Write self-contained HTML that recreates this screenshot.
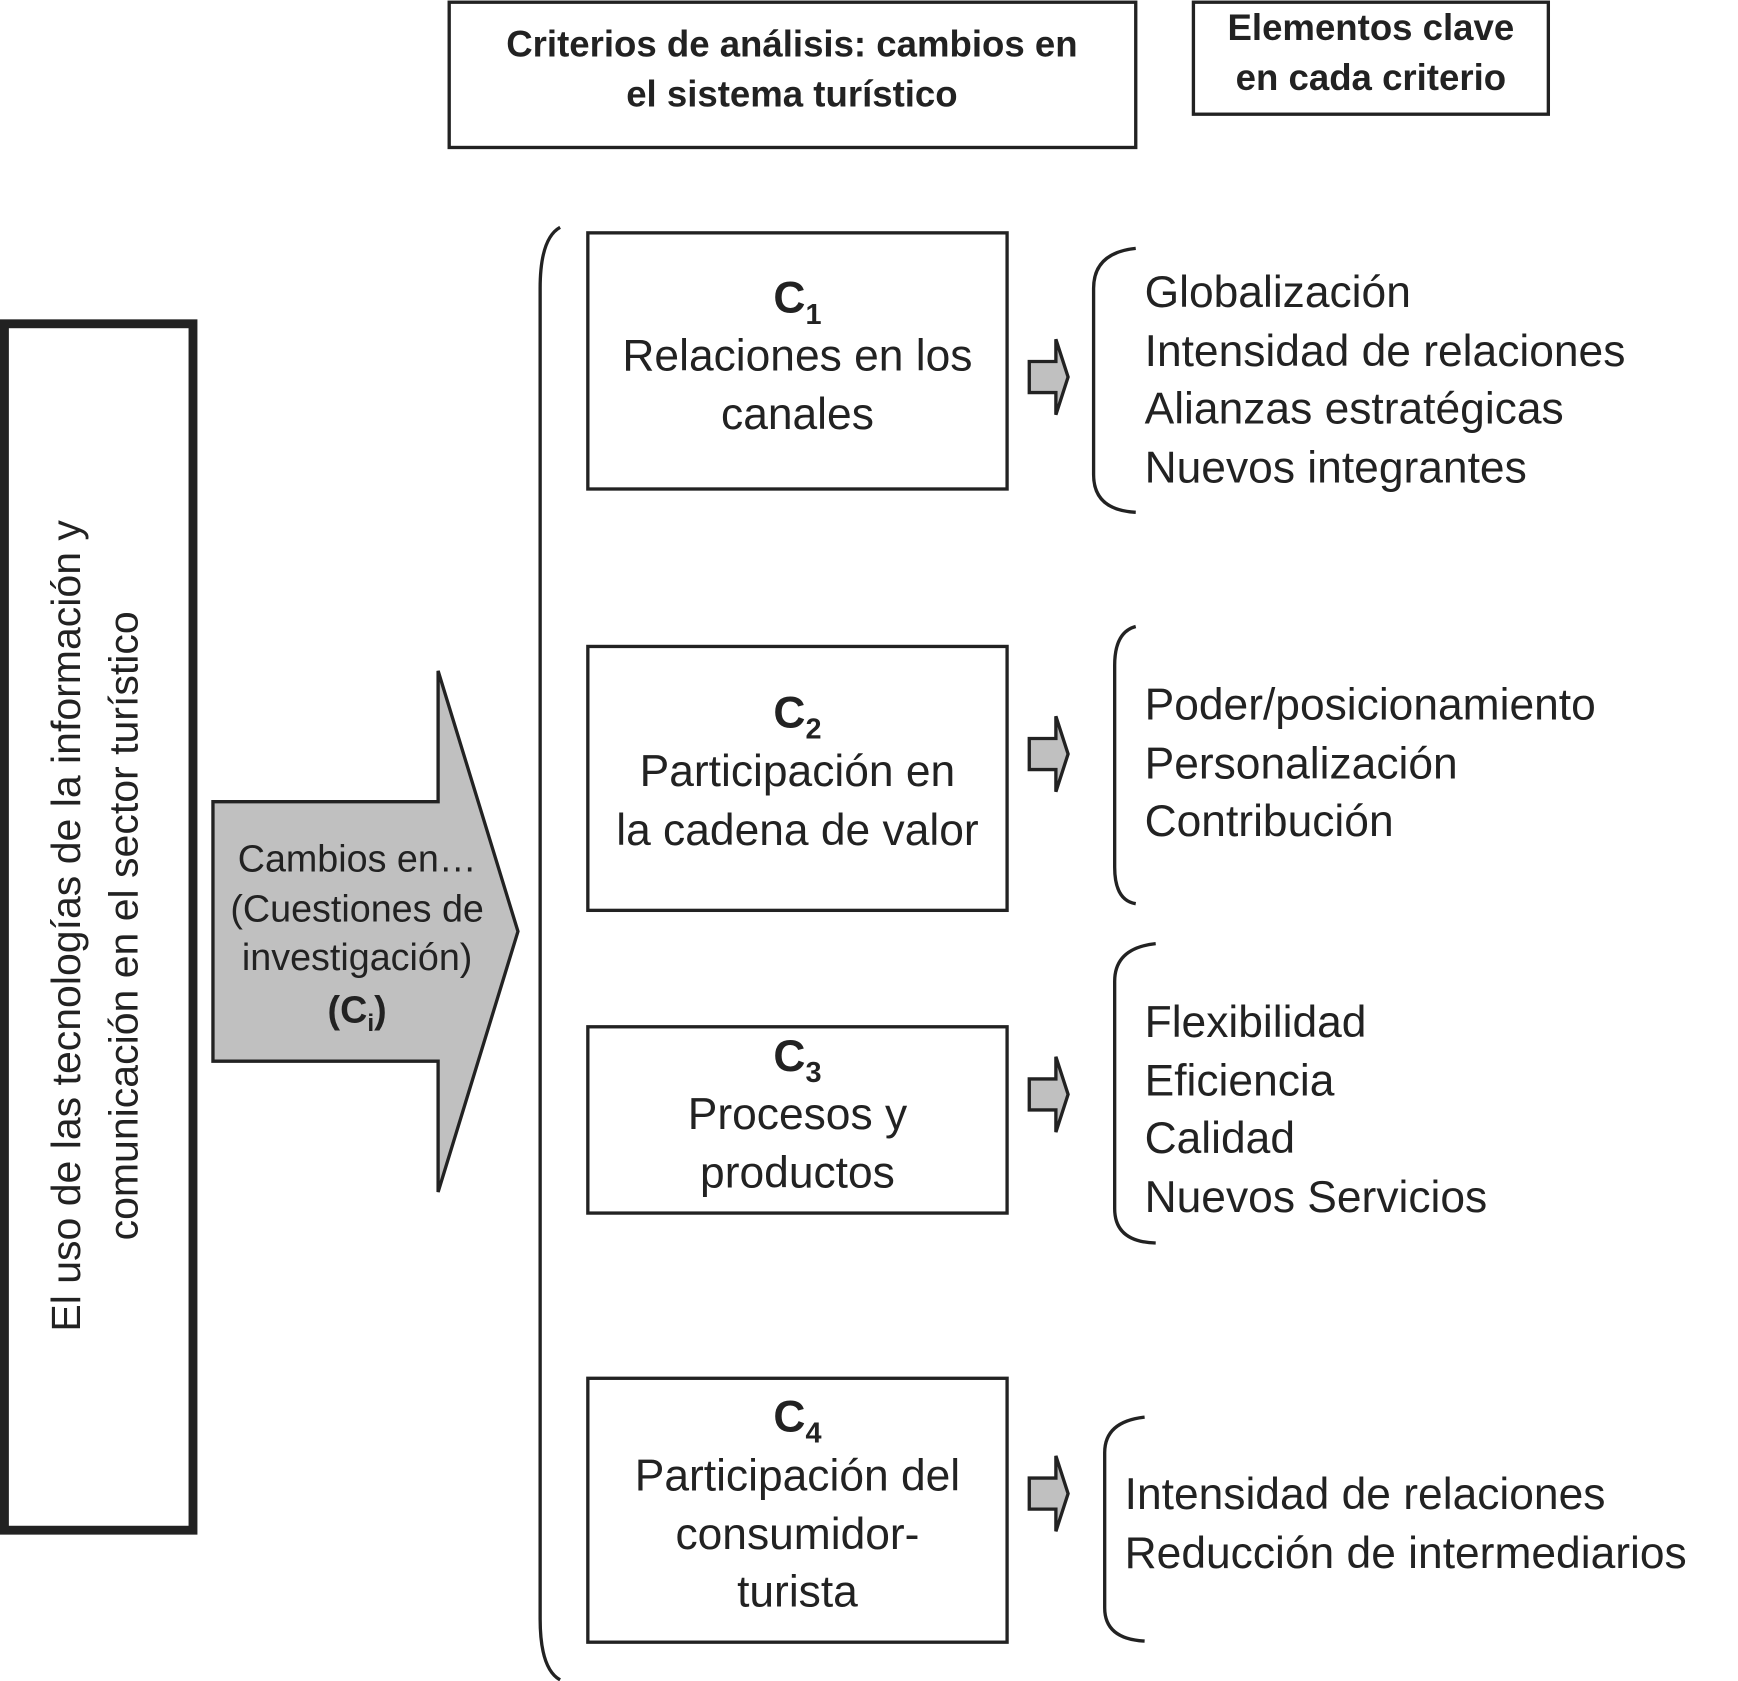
<!DOCTYPE html>
<html><head><meta charset="utf-8"><style>html,body{margin:0;padding:0;background:#fff}svg{display:block}</style></head>
<body>
<svg width="1738" height="1681" viewBox="0 0 1567 1516" preserveAspectRatio="none" xmlns="http://www.w3.org/2000/svg" font-family="Liberation Sans, Arial, sans-serif" fill="#222">
<g fill="none" stroke="#222">
<rect x="405" y="2" width="619" height="131" stroke-width="3"/>
<rect x="1076" y="2" width="320" height="101" stroke-width="3"/>
<rect x="4" y="292" width="170" height="1088" stroke-width="8"/>
<rect x="530" y="210" width="378" height="231" stroke-width="3"/>
<rect x="530" y="583" width="378" height="238" stroke-width="3"/>
<rect x="530" y="926" width="378" height="168" stroke-width="3"/>
<rect x="530" y="1243" width="378" height="238" stroke-width="3"/>
<path d="M505,205 Q487,215 487,260 L487,1460 Q487,1505 505,1515" stroke-width="3"/>
<path d="M1024,224 Q986,228 986,260 L986,428 Q986,460 1024,462" stroke-width="3"/>
<path d="M1024,565 Q1005,570 1005,600 L1005,782 Q1005,812 1024,815" stroke-width="3"/>
<path d="M1042,851 Q1005,855 1005,885 L1005,1090 Q1005,1120 1042,1121" stroke-width="3"/>
<path d="M1032,1278 Q996,1282 996,1310 L996,1450 Q996,1478 1032,1480" stroke-width="3"/>
</g>
<polygon points="192,723 395,723 395,605 467,840 395,1075 395,957 192,957" fill="#c0c0c0" stroke="#222" stroke-width="3"/>
<g fill="#c0c0c0" stroke="#222" stroke-width="3">
<polygon points="928,326 952,326 952,306 963,340 952,374 952,354 928,354"/>
<polygon points="928,666 952,666 952,646 963,680 952,714 952,694 928,694"/>
<polygon points="928,973 952,973 952,953 963,987 952,1021 952,1001 928,1001"/>
<polygon points="928,1333 952,1333 952,1313 963,1347 952,1381 952,1361 928,1361"/>
</g>
<g font-weight="bold" font-size="33" text-anchor="middle">
<text x="714" y="51">Criterios de análisis: cambios en</text>
<text x="714" y="96">el sistema turístico</text>
<text x="1236" y="36">Elementos clave</text>
<text x="1236" y="81">en cada criterio</text>
</g>
<g font-size="37" text-anchor="middle" transform="rotate(-90)">
<text x="-835" y="72">El uso de las tecnologías de la información y</text>
<text x="-835" y="124">comunicación en el sector turístico</text>
</g>
<g font-size="34" text-anchor="middle">
<text x="322" y="786">Cambios en…</text>
<text x="322" y="831">(Cuestiones de</text>
<text x="322" y="875">investigación)</text>
<text x="322" y="922" font-weight="bold">(C<tspan font-size="22" dy="8">i</tspan><tspan dy="-8">)</tspan></text>
</g>
<g font-size="40" text-anchor="middle">
<text x="719" y="282" font-weight="bold">C<tspan font-size="26" dy="10">1</tspan></text>
<text x="719" y="334">Relaciones en los</text>
<text x="719" y="387">canales</text>
<text x="719" y="656" font-weight="bold">C<tspan font-size="26" dy="10">2</tspan></text>
<text x="719" y="709">Participación en</text>
<text x="719" y="762">la cadena de valor</text>
<text x="719" y="966" font-weight="bold">C<tspan font-size="26" dy="10">3</tspan></text>
<text x="719" y="1018">Procesos y</text>
<text x="719" y="1071">productos</text>
<text x="719" y="1291" font-weight="bold">C<tspan font-size="26" dy="10">4</tspan></text>
<text x="719" y="1344">Participación del</text>
<text x="719" y="1397">consumidor-</text>
<text x="719" y="1449">turista</text>
</g>
<g font-size="40">
<text x="1032" y="277">Globalización</text>
<text x="1032" y="330">Intensidad de relaciones</text>
<text x="1032" y="382">Alianzas estratégicas</text>
<text x="1032" y="435">Nuevos integrantes</text>
<text x="1032" y="649">Poder/posicionamiento</text>
<text x="1032" y="702">Personalización</text>
<text x="1032" y="754">Contribución</text>
<text x="1032" y="935">Flexibilidad</text>
<text x="1032" y="988">Eficiencia</text>
<text x="1032" y="1040">Calidad</text>
<text x="1032" y="1093">Nuevos Servicios</text>
<text x="1014" y="1361">Intensidad de relaciones</text>
<text x="1014" y="1414">Reducción de intermediarios</text>
</g>
</svg>
</body></html>
